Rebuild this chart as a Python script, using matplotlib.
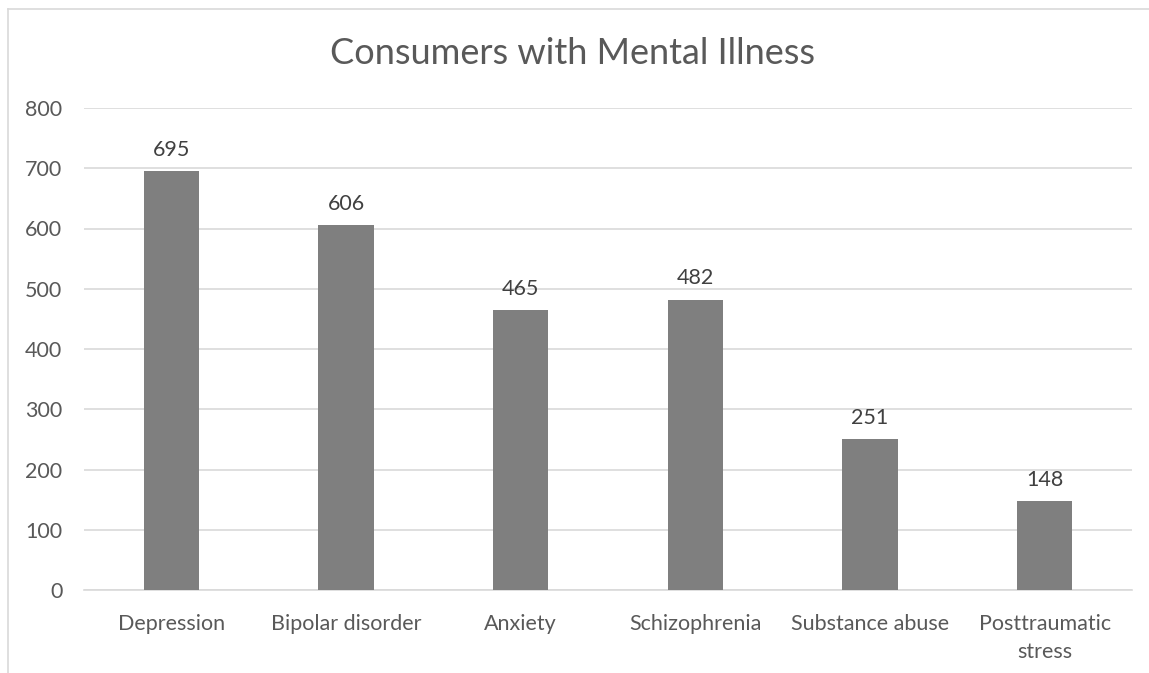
import matplotlib
matplotlib.use("Agg")
import matplotlib.pyplot as plt
from matplotlib.lines import Line2D

categories = ["Depression", "Bipolar disorder", "Anxiety", "Schizophrenia",
              "Substance abuse", "Posttraumatic\nstress"]
values = [695, 606, 465, 482, 251, 148]
yticks = [0, 100, 200, 300, 400, 500, 600, 700, 800]
title = "Consumers with Mental Illness"

plt.rcParams['font.family'] = ['Lato', 'DejaVu Sans']

W, H = 1149, 673
fig = plt.figure(figsize=(W / 100, H / 100), dpi=100)

# chart area border (top and left visible)
fig.add_artist(Line2D([8 / W, 1], [1 - 9 / H, 1 - 9 / H], color="#d9d9d9", lw=1.2))
fig.add_artist(Line2D([8 / W, 8 / W], [0, 1 - 9 / H], color="#d9d9d9", lw=1.2))

left, right = 84, 1132
top, bottom = 108, 590
ax = fig.add_axes([left / W, 1 - bottom / H, (right - left) / W, (bottom - top) / H])

x = list(range(len(categories)))
ax.bar(x, values, width=0.315, color="#7f7f7f", zorder=3)
ax.set_xlim(-0.5, len(categories) - 0.5)
ax.set_ylim(0, 800)
ax.set_yticks(yticks)
ax.set_yticklabels([str(t) for t in yticks], fontsize=15.5, color="#595959")
ax.set_xticks(x)
ax.set_xticklabels(categories, fontsize=15.5, color="#595959", linespacing=1.45)
ax.tick_params(axis="both", length=0)
ax.tick_params(axis="y", pad=15.5)
ax.tick_params(axis="x", pad=17.5)
ax.grid(axis="y", color="#d9d9d9", lw=1.2, zorder=0)
for s in ["top", "right", "left"]:
    ax.spines[s].set_visible(False)
ax.spines["bottom"].set_color("#d9d9d9")
ax.spines["bottom"].set_linewidth(1.2)

for xi, v in zip(x, values):
    ax.annotate(str(v), (xi, v), xytext=(0, 8), textcoords="offset points",
                ha="center", va="bottom", fontsize=15.5, color="#404040")

fig.text(573 / W, 1 - 53 / H, title, ha="center", va="center",
         fontsize=26, color="#595959")

fig.savefig("out.png", dpi=100, facecolor="white")
